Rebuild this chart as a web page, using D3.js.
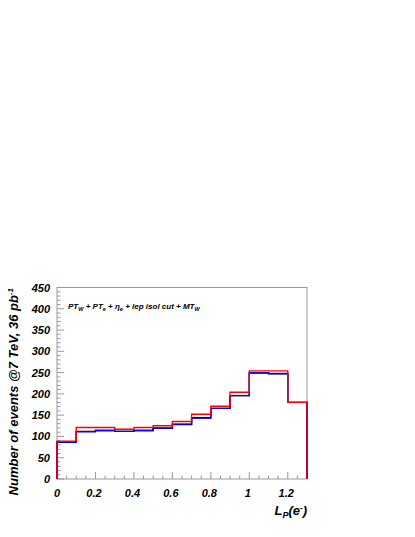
<!DOCTYPE html>
<html>
<head>
<meta charset="utf-8">
<script src="https://cdn.jsdelivr.net/npm/d3@7"></script>
<style>
  body { margin: 0; background: #fff; }
  text { font-family: "Liberation Sans", Arial, sans-serif; font-weight: bold; font-style: italic; }
</style>
</head>
<body>
<svg width="415" height="537"></svg>
<script>
// bin edges of L_P(e-), 13 bins of width 0.1
var binEdges = [0, 0.1, 0.2, 0.3, 0.4, 0.5, 0.6, 0.7, 0.8, 0.9, 1.0, 1.1, 1.2, 1.3];
var blackVals = [86, 112, 114, 112, 114, 119, 128, 144, 166, 196, 249, 247, 180];
var blueVals  = [87, 111, 114, 112, 114, 120, 129, 143, 166, 196, 250, 248, 180];
var redVals   = [89, 121, 121, 117, 121, 125, 135, 152, 171, 204, 254, 254, 180];
var xTicks = [0, 0.2, 0.4, 0.6, 0.8, 1, 1.2];
var yTicks = [0, 50, 100, 150, 200, 250, 300, 350, 400, 450];

var svg = d3.select("svg");

var x = d3.scaleLinear().domain([0, 1.3]).range([57, 307]);
var y = d3.scaleLinear().domain([0, 450]).range([479, 287.5]);

var frameCol = "#999";

// minor ticks
var yMinor = d3.range(0, 451, 10);
svg.append("g").selectAll("line")
    .data(yMinor).enter().append("line")
    .attr("x1", x(0)).attr("x2", function(d){ return d % 50 == 0 ? x(0) + 7 : x(0) + 3.5 })
    .attr("y1", function(d){ return y(d) }).attr("y2", function(d){ return y(d) })
    .style("stroke", frameCol).style("stroke-width", 1);

var xMinor = d3.range(0, 27).map(function(i){ return i * 0.05 });
svg.append("g").selectAll("line")
    .data(xMinor).enter().append("line")
    .attr("x1", function(d){ return x(d) }).attr("x2", function(d){ return x(d) })
    .attr("y1", y(0)).attr("y2", function(d, i){ return i % 4 == 0 ? y(0) - 7 : y(0) - 3.5 })
    .style("stroke", frameCol).style("stroke-width", 1);

// frame
svg.append("rect")
    .attr("x", x(0)).attr("y", y(450))
    .attr("width", x(1.3) - x(0)).attr("height", y(0) - y(450))
    .style("fill", "none").style("stroke", frameCol).style("stroke-width", 1);

// tick labels
svg.append("g").selectAll("text")
    .data(yTicks).enter().append("text")
    .attr("x", 50).attr("y", function(d){ return y(d) + 4 })
    .attr("text-anchor", "end")
    .style("font-size", "11px")
    .text(function(d){ return d });

svg.append("g").selectAll("text")
    .data(xTicks).enter().append("text")
    .attr("x", function(d){ return x(d) - (d > 0 ? 1.5 : 0) }).attr("y", 497)
    .attr("text-anchor", "middle")
    .style("font-size", "11px")
    .text(function(d){ return d });

// histograms
function histPath(vals) {
    var pts = [[x(binEdges[0]), y(0)]];
    vals.forEach(function(v, i){
        pts.push([x(binEdges[i]), y(v)]);
        pts.push([x(binEdges[i + 1]), y(v)]);
    });
    pts.push([x(binEdges[binEdges.length - 1]), y(0)]);
    return d3.line()(pts);
}

var series = [
    {vals: blackVals, color: "#000000"},
    {vals: blueVals, color: "#0000ff"},
    {vals: redVals, color: "#ff0000"}
];
svg.append("g").selectAll("path")
    .data(series).enter().append("path")
    .attr("d", function(d){ return histPath(d.vals) })
    .style("fill", "none")
    .style("stroke", function(d){ return d.color })
    .style("stroke-width", 1.4);

// annotation
var note = svg.append("text").attr("x", 68).attr("y", 309).style("font-size", "8px");
note.append("tspan").text("PT");
note.append("tspan").attr("dy", 2).style("font-size", "5.5px").text("W");
note.append("tspan").attr("dy", -2).text(" + PT");
note.append("tspan").attr("dy", 2).style("font-size", "5.5px").text("e");
note.append("tspan").attr("dy", -2).text(" + \u03b7");
note.append("tspan").attr("dy", 2).style("font-size", "5.5px").text("e");
note.append("tspan").attr("dy", -2).text(" + lep isol cut + MT");
note.append("tspan").attr("dy", 2).style("font-size", "5.5px").text("W");

// y title
var yt = svg.append("text")
    .attr("transform", "translate(18,288) rotate(-90)")
    .attr("text-anchor", "end")
    .style("font-size", "13px");
yt.append("tspan").text("Number of events @7 TeV, 36 pb");
yt.append("tspan").attr("dy", -5).style("font-size", "8px").text("-1");

// x title
var xt = svg.append("text")
    .attr("x", 307).attr("y", 515)
    .attr("text-anchor", "end")
    .style("font-size", "13px");
xt.append("tspan").text("L");
xt.append("tspan").attr("dy", 3).style("font-size", "9px").text("P");
xt.append("tspan").attr("dy", -3).text("(e");
xt.append("tspan").attr("dy", -5).style("font-size", "8px").text("-");
xt.append("tspan").attr("dy", 5).text(")");
</script>
</body>
</html>
